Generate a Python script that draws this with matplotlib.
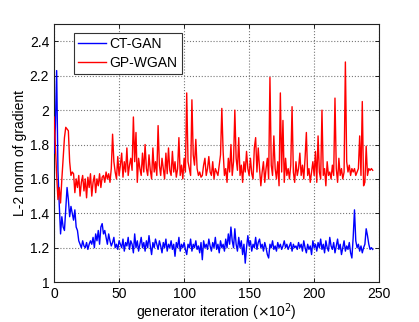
import numpy as np
import matplotlib
matplotlib.use("Agg")
import matplotlib.pyplot as plt

plt.rcParams['font.family'] = ['Liberation Sans', 'DejaVu Sans']

# generator iteration (x100)
iters = list(range(0, 246))

# GP-WGAN gradient norm
gp_wgan = [
    1.96, 1.80, 1.62, 1.48, 1.55, 1.46, 1.60, 1.72, 1.84, 1.90,
    1.89, 1.88, 1.70, 1.62, 1.64, 1.63, 1.52, 1.60, 1.55, 1.62,
    1.50, 1.58, 1.62, 1.53, 1.60, 1.49, 1.61, 1.55, 1.63, 1.50,
    1.58, 1.62, 1.52, 1.60, 1.56, 1.63, 1.55, 1.61, 1.62, 1.58,
    1.64, 1.60, 1.63, 1.58, 1.66, 1.86, 1.70, 1.64, 1.60, 1.73,
    1.62, 1.68, 1.75, 1.61, 1.70, 1.64, 1.78, 1.62, 1.68, 1.72,
    1.65, 1.96, 1.70, 1.87, 1.58, 1.72, 1.66, 1.62, 1.75, 1.64,
    1.80, 1.66, 1.62, 1.74, 1.65, 1.60, 1.78, 1.64, 1.70, 1.62,
    1.91, 1.68, 1.62, 1.72, 1.66, 1.60, 1.75, 1.63, 1.78, 1.65,
    1.62, 1.76, 1.64, 1.70, 1.61, 1.66, 1.84, 1.62, 1.68, 1.60,
    1.72, 1.64, 2.10, 1.70, 1.66, 1.62, 2.06, 1.74, 1.68, 1.83,
    1.66, 1.62, 1.64, 1.61, 1.62, 1.68, 1.72, 1.62, 1.66, 1.73,
    1.64, 1.62, 1.70, 1.60, 1.66, 1.64, 1.62, 1.68, 1.74, 2.01,
    1.76, 1.62, 1.66, 1.58, 1.72, 1.64, 1.80, 1.62, 1.70, 2.00,
    1.72, 1.65, 1.84, 1.62, 1.68, 1.58, 1.70, 1.64, 1.76, 1.66,
    1.62, 1.72, 1.63, 1.60, 1.78, 1.84, 1.64, 1.78, 1.66, 1.56,
    1.64, 1.70, 1.58, 1.66, 1.72, 1.60, 2.19, 1.68, 1.62, 1.85,
    1.66, 1.60, 1.70, 1.56, 2.10, 1.64, 1.94, 1.58, 1.72, 1.62,
    1.66, 1.60, 1.68, 2.02, 1.64, 1.58, 1.70, 1.62, 1.66, 1.75,
    1.62, 1.68, 1.60, 1.72, 1.87, 1.62, 1.66, 1.58, 1.64, 1.70,
    1.62, 1.76, 1.58, 1.85, 1.64, 1.60, 2.00, 1.62, 1.66, 1.56,
    1.70, 1.62, 1.64, 1.60, 1.68, 1.62, 2.07, 1.66, 1.58, 1.72,
    1.62, 1.66, 1.60, 1.64, 2.28, 1.70, 1.64, 1.68, 1.62, 1.66,
    1.64, 1.66, 1.62, 1.64, 1.66, 1.85, 1.62, 2.05, 1.56, 1.58,
    1.79, 1.62, 1.66, 1.65, 1.66, 1.65,
]

# CT-GAN gradient norm
ct_gan = [
    1.75, 1.90, 2.23, 1.65, 1.45, 1.28, 1.38, 1.32, 1.30, 1.42,
    1.55, 1.48, 1.38, 1.44, 1.40, 1.36, 1.42, 1.32, 1.30, 1.24,
    1.22, 1.20, 1.24, 1.21, 1.20, 1.23, 1.19, 1.22, 1.24, 1.22,
    1.26, 1.20, 1.28, 1.24, 1.30, 1.22, 1.32, 1.34, 1.28, 1.30,
    1.26, 1.22, 1.28, 1.24, 1.21, 1.23, 1.26, 1.20, 1.22, 1.19,
    1.24, 1.22, 1.20, 1.25, 1.18, 1.23, 1.21, 1.26, 1.19, 1.24,
    1.22, 1.17, 1.28, 1.20, 1.24, 1.18, 1.22, 1.26, 1.20, 1.23,
    1.18, 1.24, 1.20, 1.27, 1.21, 1.16, 1.23, 1.20, 1.25, 1.22,
    1.19, 1.24, 1.21, 1.17, 1.23, 1.20, 1.25, 1.18, 1.22, 1.20,
    1.24, 1.19, 1.22, 1.15, 1.23, 1.20, 1.26, 1.18, 1.22, 1.20,
    1.23, 1.19, 1.16, 1.22, 1.20, 1.25, 1.18, 1.22, 1.20, 1.24,
    1.19, 1.21, 1.17, 1.23, 1.13, 1.24, 1.20, 1.22, 1.19, 1.25,
    1.21, 1.18, 1.23, 1.20, 1.26, 1.19, 1.22, 1.17, 1.24, 1.20,
    1.22, 1.18, 1.25, 1.20, 1.28, 1.22, 1.32, 1.24, 1.20, 1.31,
    1.22, 1.18, 1.26, 1.20, 1.24, 1.16, 1.22, 1.11, 1.20, 1.27,
    1.21, 1.24, 1.18, 1.22, 1.20, 1.26, 1.19, 1.23, 1.25, 1.20,
    1.22, 1.18, 1.23, 1.20, 1.16, 1.14, 1.22, 1.20, 1.24, 1.19,
    1.21, 1.18, 1.23, 1.20, 1.22, 1.19, 1.21, 1.24, 1.20, 1.22,
    1.19, 1.21, 1.23, 1.18, 1.22, 1.20, 1.21, 1.19, 1.23, 1.20,
    1.22, 1.18, 1.24, 1.20, 1.17, 1.22, 1.19, 1.21, 1.16, 1.24,
    1.20, 1.22, 1.18, 1.23, 1.20, 1.25, 1.19, 1.22, 1.17, 1.24,
    1.20, 1.18, 1.26, 1.21, 1.19, 1.23, 1.17, 1.21, 1.25, 1.19,
    1.22, 1.16, 1.20, 1.24, 1.18, 1.21, 1.19, 1.23, 1.17, 1.14,
    1.26, 1.42, 1.24, 1.20, 1.22, 1.18, 1.21, 1.17, 1.20, 1.22,
    1.31, 1.27, 1.22, 1.19, 1.20, 1.19,
]

xticks = [0, 50, 100, 150, 200, 250]
yticks = [1, 1.2, 1.4, 1.6, 1.8, 2, 2.2, 2.4]
ytick_labels = ['1', '1.2', '1.4', '1.6', '1.8', '2', '2.2', '2.4']

fig = plt.figure(figsize=(4.19, 3.22), dpi=100)
ax = fig.add_axes([0.129, 0.124, 0.776, 0.801])

ax.plot(iters, ct_gan, color='#0000ff', lw=1.0, label='CT-GAN', zorder=3)
ax.plot(iters, gp_wgan, color='#ff0000', lw=1.0, label='GP-WGAN', zorder=3)

ax.set_xlim(0, 250)
ax.set_ylim(1, 2.5)
ax.set_xticks(xticks)
ax.set_yticks(yticks)
ax.set_yticklabels(ytick_labels)
ax.tick_params(direction='in', top=True, right=True, labelsize=10, length=3, width=0.6)
ax.grid(True, color='#777777', linestyle=':', linewidth=0.8)
for s in ax.spines.values():
    s.set_linewidth(0.8)
    s.set_color('#222222')

ax.set_xlabel(r'generator iteration ($\times$10$^2$)', fontsize=10, labelpad=0)
ax.set_ylabel('L-2 norm of gradient', fontsize=10, labelpad=2)

leg = ax.legend(loc='upper left', bbox_to_anchor=(0.06, 0.965), fontsize=10,
                fancybox=False, framealpha=1, edgecolor='#333333',
                handlelength=2.0, handletextpad=0.3, borderpad=0.3,
                labelspacing=0.3, borderaxespad=0)
leg.get_frame().set_linewidth(0.8)

fig.savefig('out.png', dpi=100)
